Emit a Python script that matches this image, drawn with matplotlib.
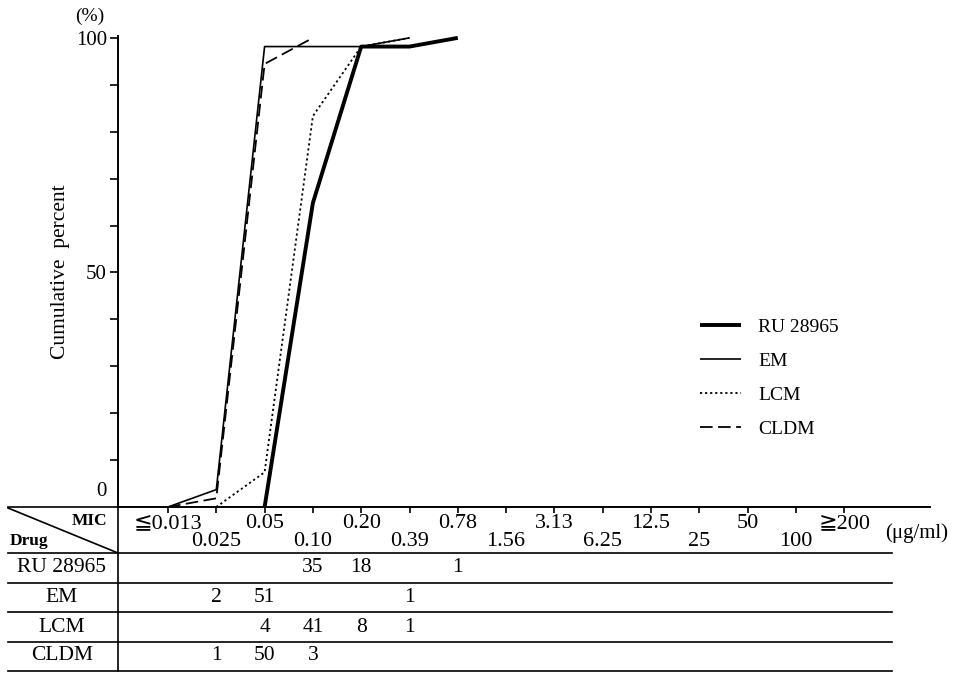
import numpy as np
import matplotlib
matplotlib.use("Agg")
import matplotlib.pyplot as plt
from matplotlib.transforms import blended_transform_factory

plt.rcParams['font.family'] = ['Liberation Serif', 'DejaVu Sans', 'Noto Sans CJK JP']

# MIC categories (ug/ml)
mic_labels = ["≦0.013", "0.025", "0.05", "0.10", "0.20", "0.39", "0.78", "1.56",
              "3.13", "6.25", "12.5", "25", "50", "100", "≧200"]

# number of strains per MIC (table)
drugs = ["RU 28965", "EM", "LCM", "CLDM"]
ru_counts = [0, 0, 0, 35, 18, 0, 1, 0, 0, 0, 0, 0, 0, 0, 0]
em_counts = [0, 2, 51, 0, 0, 1, 0, 0, 0, 0, 0, 0, 0, 0, 0]
lcm_counts = [0, 0, 4, 41, 8, 1, 0, 0, 0, 0, 0, 0, 0, 0, 0]
cldm_counts = [0, 1, 50, 3, 0, 0, 0, 0, 0, 0, 0, 0, 0, 0, 0]
all_counts = [ru_counts, em_counts, lcm_counts, cldm_counts]

styles = [
    dict(color="black", lw=2.8, ls="-"),
    dict(color="black", lw=1.2, ls="-"),
    dict(color="black", lw=1.3, ls=(0, (1.2, 1.6))),
    dict(color="black", lw=1.3, ls=(0, (7, 3))),
]

W, H = 962, 673
fig = plt.figure(figsize=(W / 100, H / 100), dpi=100)

# overlay in pixel coords for table lines / text
ov = fig.add_axes([0, 0, 1, 1])
ov.set_xlim(0, W)
ov.set_ylim(H, 0)
ov.axis("off")

ax = fig.add_axes([118 / W, (H - 507) / H, (930 - 118) / W, (507 - 36) / H])
ax.patch.set_alpha(0)
ax.set_xlim(-1.035, 15.776)
ax.set_ylim(0, 100.4)

for counts, name, st in zip(all_counts, drugs, styles):
    c = np.array(counts)
    cum = np.cumsum(c) / c.sum() * 100
    nz = np.nonzero(c)[0]
    i0, i1 = nz[0] - 1, nz[-1]
    xs = np.arange(i0, i1 + 1)
    ax.plot(xs, cum[i0:i1 + 1], label=name, solid_capstyle="butt", **st)

ax.spines["top"].set_visible(False)
ax.spines["right"].set_visible(False)
ax.spines["left"].set_linewidth(1.4)
ax.spines["bottom"].set_linewidth(1.2)

ax.set_xticks(np.arange(len(mic_labels)))
ax.set_xticklabels([])
ax.tick_params(axis="x", direction="out", length=4, width=1.2)

ax.set_yticks([50, 100])
ax.set_yticklabels(["50", "100"], fontsize=15)
ax.set_yticks(np.arange(10, 100, 10), minor=True)
ax.tick_params(axis="y", which="both", direction="out", length=6, width=1.2, pad=2)

ov.text(90, 16, "(%)", ha="center", va="center", fontsize=14)
ov.text(107, 491, "0", ha="right", va="center", fontsize=15)
ov.text(61, 272, "Cumulative  percent", rotation=90, ha="center", va="center", fontsize=15.5)

leg = ax.legend(loc="upper left", bbox_to_anchor=(700 / W, 1 - 318 / H),
                bbox_transform=fig.transFigure, frameon=False, fontsize=14,
                handlelength=2.1, handletextpad=0.9, labelspacing=0.85,
                borderpad=0, borderaxespad=0)

# table
tr = blended_transform_factory(ax.transData, ov.transData)
lw = 1.2
ov.plot([8, 930], [507, 507], color="black", lw=lw)
for y in [553, 583, 612, 642, 671]:
    ov.plot([8, 892], [y, y], color="black", lw=lw)
ov.plot([118, 118], [507, 671], color="black", lw=lw)
ov.plot([8, 118], [508, 553], color="black", lw=lw)
ov.text(107, 521, "MIC", ha="right", va="center", fontsize=12.5, fontweight="bold")
ov.text(10, 541, "Drug", ha="left", va="center", fontsize=12.5, fontweight="bold")

for i, lab in enumerate(mic_labels):
    y = 524 if i % 2 == 0 else 542
    ov.text(i, y, lab, transform=tr, ha="center", va="center", fontsize=16)
ov.text(917, 533, "(μg/ml)", ha="center", va="center", fontsize=15)

row_y = [568, 598, 627, 656]
for name, counts, y in zip(drugs, all_counts, row_y):
    ov.text(62, y, name, ha="center", va="center", fontsize=15.5)
    for i, n in enumerate(counts):
        if n:
            ov.text(i, y, str(n), transform=tr, ha="center", va="center", fontsize=15.5)

fig.savefig("out.png", dpi=100)
